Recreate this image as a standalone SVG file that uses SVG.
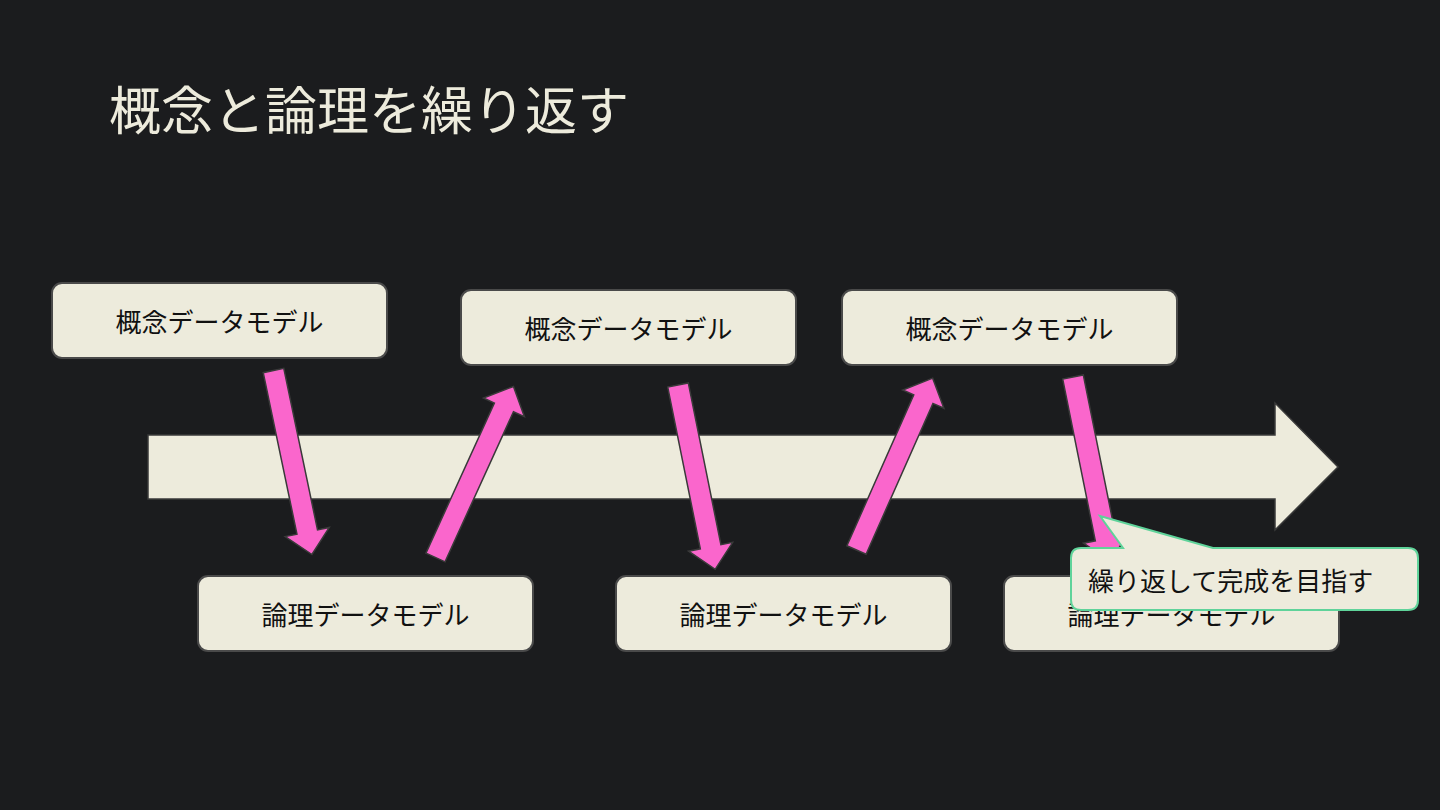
<svg xmlns="http://www.w3.org/2000/svg" width="1440" height="810" viewBox="0 0 1440 810">
<style>
.box{fill:#EDEBDC;stroke:#4a4a4a;stroke-width:2}
.lbl{font-family:"Noto Sans CJK JP","Noto Sans",sans-serif;font-size:26px;fill:#111111;text-anchor:middle;dominant-baseline:central}
.parr{fill:#FA66CC;stroke:#3a3a3a;stroke-width:1.5;stroke-linejoin:miter}
.title{font-family:"Noto Sans CJK JP","Noto Sans",sans-serif;font-size:52px;fill:#EDEBDC}
</style>
<defs>
<path id="pa" d="M0,-10.5 L165,-10.5 L165,-22.5 L188,0 L165,22.5 L165,10.5 L0,10.5 Z"/>
</defs>
<rect width="1440" height="810" fill="#1B1C1E"/>
<text class="title" x="109" y="130">概念と論理を繰り返す</text>

<g id="timeline">
<path d="M148,435 L1275,435 L1275,403 L1338,467 L1275,530 L1275,499 L148,499 Z" fill="#EDEBDC" stroke="#3a3a3a" stroke-width="1.5"/>
</g>

<g id="c1"><rect class="box" x="52" y="283" width="335" height="75" rx="10"/><text class="lbl" x="219.5" y="320.5">概念データモデル</text></g>
<g id="c2"><rect class="box" x="461" y="290" width="335" height="75" rx="10"/><text class="lbl" x="628.5" y="327.5">概念データモデル</text></g>
<g id="c3"><rect class="box" x="842" y="290" width="335" height="75" rx="10"/><text class="lbl" x="1009.5" y="327.5">概念データモデル</text></g>
<g id="l1"><rect class="box" x="198" y="576" width="335" height="75" rx="10"/><text class="lbl" x="365.5" y="613.5">論理データモデル</text></g>
<g id="l2"><rect class="box" x="616" y="576" width="335" height="75" rx="10"/><text class="lbl" x="783.5" y="613.5">論理データモデル</text></g>
<g id="l3"><rect class="box" x="1004" y="576" width="335" height="75" rx="10"/><text class="lbl" x="1171.5" y="613.5">論理データモデル</text></g>

<g id="connectors">
<use href="#pa" class="parr" transform="translate(273.5,370.5) rotate(78.2)"/>
<use href="#pa" class="parr" transform="translate(435.5,557.5) rotate(-65.5)"/>
<use href="#pa" class="parr" transform="translate(678,385) rotate(78.6)"/>
<use href="#pa" class="parr" transform="translate(856.5,550) rotate(-66.1)"/>
<use href="#pa" class="parr" transform="translate(1073,377) rotate(78.6)"/>
</g>

<g id="callout">
<path d="M1081,548 L1123,548 L1100,516 L1213,548 L1408,548 Q1418,548 1418,558 L1418,600 Q1418,610 1408,610 L1081,610 Q1071,610 1071,600 L1071,558 Q1071,548 1081,548 Z" fill="#EDEBDC" stroke="#5FD39A" stroke-width="2"/>
<text x="1088" y="579" font-family="'Noto Sans CJK JP','Noto Sans',sans-serif" font-size="26" fill="#111111" dominant-baseline="central">繰り返して完成を目指す</text>
</g>
</svg>
